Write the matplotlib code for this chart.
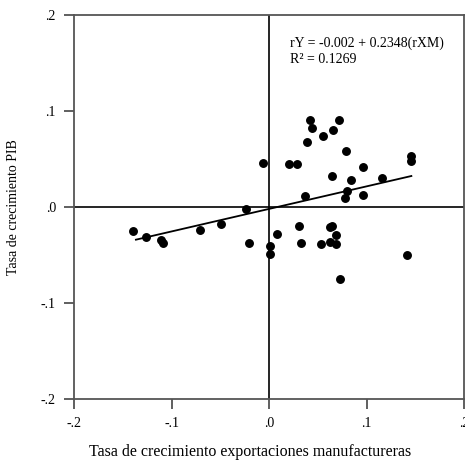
import numpy as np
import matplotlib
matplotlib.use("Agg")
import matplotlib.pyplot as plt

plt.rcParams['font.family'] = ['Liberation Serif', 'DejaVu Serif']

# tasa de crecimiento exportaciones manufactureras (rXM)
x_exp = [0.042, 0.0436, 0.0714, 0.0653, 0.0557, 0.0389, 0.0787, -0.0059, 0.0206, 0.0292,
         0.0969, 0.146, 0.146, 0.0642, 0.0842, 0.1162, 0.0368, 0.0804, 0.078, 0.0962,
         -0.1395, -0.1258, -0.111, -0.1086, -0.0704, -0.0495, -0.0234, -0.0206, 0.0007, 0.0007,
         0.0077, 0.0309, 0.0333, 0.0536, 0.0626, 0.0646, 0.0684, 0.0622, 0.0684, 0.0732,
         0.1415]
# tasa de crecimiento PIB (rY)
y_pib = [0.091, 0.0826, 0.0903, 0.0805, 0.0743, 0.0674, 0.0586, 0.0458, 0.0445, 0.0448,
         0.0417, 0.0531, 0.0479, 0.0323, 0.0284, 0.0302, 0.0115, 0.0167, 0.0091, 0.0122,
         -0.0247, -0.0316, -0.0347, -0.0378, -0.0236, -0.0174, -0.0024, -0.0378, -0.0403, -0.049,
         -0.0283, -0.0195, -0.0378, -0.0385, -0.0205, -0.0195, -0.0292, -0.0361, -0.0389, -0.075,
         -0.0497]

intercept = -0.002
slope = 0.2348
r2 = 0.1269

ticks = [-0.2, -0.1, 0.0, 0.1, 0.2]
tick_labels = ['-.2', '-.1', '.0', '.1', '.2']

fig = plt.figure(figsize=(4.65, 4.63), dpi=100)
ax = fig.add_axes([74 / 465, 64 / 463, 390 / 465, 384 / 463])

ax.axhline(0, color='black', lw=1.2, zorder=1)
ax.axvline(0, color='black', lw=1.2, zorder=1)

ax.plot(x_exp, y_pib, 'o', color='black', markersize=5.4, zorder=3)

xs = np.array([min(x_exp) + 0.003, max(x_exp)])
ax.plot(xs, intercept + slope * xs, color='black', lw=1.3, zorder=2)

ax.text(0.022, 0.1705, f'rY = {intercept} + {slope}(rXM)', fontsize=10, va='center')
ax.text(0.022, 0.1535, f'R² = {r2}', fontsize=10, va='center')

ax.set_xlim(-0.2, 0.2)
ax.set_ylim(-0.2, 0.2)
ax.set_xticks(ticks)
ax.set_xticklabels(tick_labels, fontsize=10)
ax.set_yticks(ticks)
ax.set_yticklabels(tick_labels, fontsize=10)
ax.tick_params(length=7, width=1.2, color='#444444', pad=6)

for s in ['left', 'top', 'bottom', 'right']:
    ax.spines[s].set_color('#555555')
    ax.spines[s].set_linewidth(1.3)

ax.set_xlabel('Tasa de crecimiento exportaciones manufactureras', fontsize=11.5)
ax.xaxis.set_label_coords((250 - 74) / 390, -(444 - 399) / 384)
ax.set_ylabel('Tasa de crecimiento PIB', fontsize=10)
ax.yaxis.set_label_coords(-(74 - 20) / 390, 0.5)

fig.savefig('out.png', dpi=100)
